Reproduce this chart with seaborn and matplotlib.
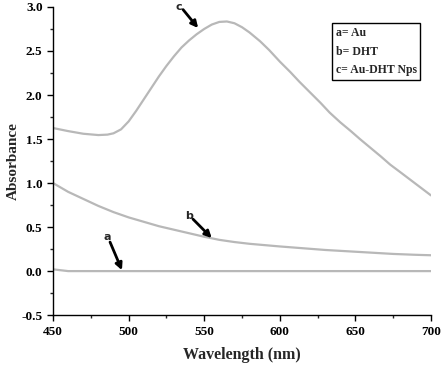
import numpy as np
import pandas as pd
import matplotlib
matplotlib.use("Agg")
import matplotlib.pyplot as plt
from matplotlib.ticker import MultipleLocator, FormatStrFormatter
import seaborn as sns

# curve values (wavelength in nm, absorbance)
wl_a = [450, 455, 460, 480, 500, 550, 600, 650, 700]
abs_a = [0.02, 0.01, 0.0, 0.0, 0.0, 0.0, 0.0, 0.0, 0.0]

wl_b = [450, 460, 470, 480, 490, 500, 510, 520, 530, 540, 550, 560, 570, 580, 590, 600,
        615, 630, 645, 660, 675, 690, 700]
abs_b = [1.00, 0.90, 0.82, 0.74, 0.67, 0.61, 0.56, 0.51, 0.47, 0.43, 0.39, 0.355, 0.33, 0.31,
         0.295, 0.28, 0.26, 0.24, 0.225, 0.21, 0.195, 0.185, 0.18]

wl_c = [450, 460, 470, 480, 486, 490, 495, 500, 505, 510, 515, 520, 525, 530, 535, 540, 545,
        550, 555, 560, 565, 570, 575, 580, 587, 593, 600, 607, 613, 620, 627, 633, 640, 647,
        653, 660, 667, 673, 680, 690, 700]
abs_c = [1.625, 1.59, 1.56, 1.545, 1.55, 1.565, 1.61, 1.70, 1.82, 1.95, 2.08, 2.21, 2.33, 2.44,
         2.54, 2.62, 2.69, 2.75, 2.80, 2.83, 2.835, 2.815, 2.77, 2.71, 2.61, 2.51, 2.38, 2.26,
         2.15, 2.03, 1.91, 1.80, 1.69, 1.59, 1.50, 1.40, 1.30, 1.21, 1.12, 0.99, 0.86]

labels = ["a", "b", "c"]
legend_lines = ["a= Au", "b= DHT", "c= Au-DHT Nps"]

df = pd.concat([
    pd.DataFrame({"wl": wl_a, "abs": abs_a, "sample": "a"}),
    pd.DataFrame({"wl": wl_b, "abs": abs_b, "sample": "b"}),
    pd.DataFrame({"wl": wl_c, "abs": abs_c, "sample": "c"}),
])

sns.set_style("ticks")
plt.rcParams["font.family"] = ["Liberation Serif", "DejaVu Serif"]
plt.rcParams["font.weight"] = "bold"

fig = plt.figure(figsize=(4.42, 3.66), dpi=100)
ax = fig.add_axes([0.12, 0.139, 0.855, 0.842])

for s in labels:
    sns.lineplot(data=df[df["sample"] == s], x="wl", y="abs", ax=ax,
                 color="#b8b8b8", linewidth=1.6, legend=False)

ax.set_xlim(450, 700)
ax.set_ylim(-0.5, 3.0)
ax.xaxis.set_major_locator(MultipleLocator(50))
ax.xaxis.set_minor_locator(MultipleLocator(25))
ax.yaxis.set_major_locator(MultipleLocator(0.5))
ax.yaxis.set_minor_locator(MultipleLocator(0.25))
ax.yaxis.set_major_formatter(FormatStrFormatter("%.1f"))
ax.tick_params(which="major", direction="out", length=4, width=1, labelsize=9.5, colors="black")
ax.tick_params(which="minor", direction="out", length=2.5, width=1)
for lab in ax.get_xticklabels() + ax.get_yticklabels():
    lab.set_fontweight("bold")
for sp in ["top", "right"]:
    ax.spines[sp].set_visible(False)
for sp in ["left", "bottom"]:
    ax.spines[sp].set_color("black")
    ax.spines[sp].set_linewidth(1)

ax.set_xlabel("Wavelength (nm)", fontsize=11.5, fontweight="bold", labelpad=7)
ax.set_ylabel("Absorbance", fontsize=11, fontweight="bold")
ax.yaxis.set_label_coords(-0.088, 0.5)

arrow = dict(arrowstyle="-|>", color="black", lw=2, mutation_scale=10, shrinkA=0, shrinkB=0)
ax.annotate("", xy=(546, 2.76), xytext=(536, 2.97), arrowprops=arrow)
ax.text(533, 3.0, "c", fontsize=8, fontfamily="DejaVu Sans", ha="center", va="center")
ax.annotate("", xy=(555, 0.375), xytext=(542.6, 0.59), arrowprops=arrow)
ax.text(540, 0.63, "b", fontsize=8, fontfamily="DejaVu Sans", ha="center", va="center")
ax.annotate("", xy=(495.6, 0.01), xytext=(487.7, 0.33), arrowprops=arrow)
ax.text(486, 0.39, "a", fontsize=8, fontfamily="DejaVu Sans", ha="center", va="center")

ax.text(0.748, 0.935, "\n".join(legend_lines), transform=ax.transAxes, fontsize=8.5,
        fontweight="bold", va="top", ha="left", linespacing=1.75,
        bbox=dict(boxstyle="square,pad=0.3", fc="white", ec="black", lw=1))

fig.savefig("out.png", dpi=100)
